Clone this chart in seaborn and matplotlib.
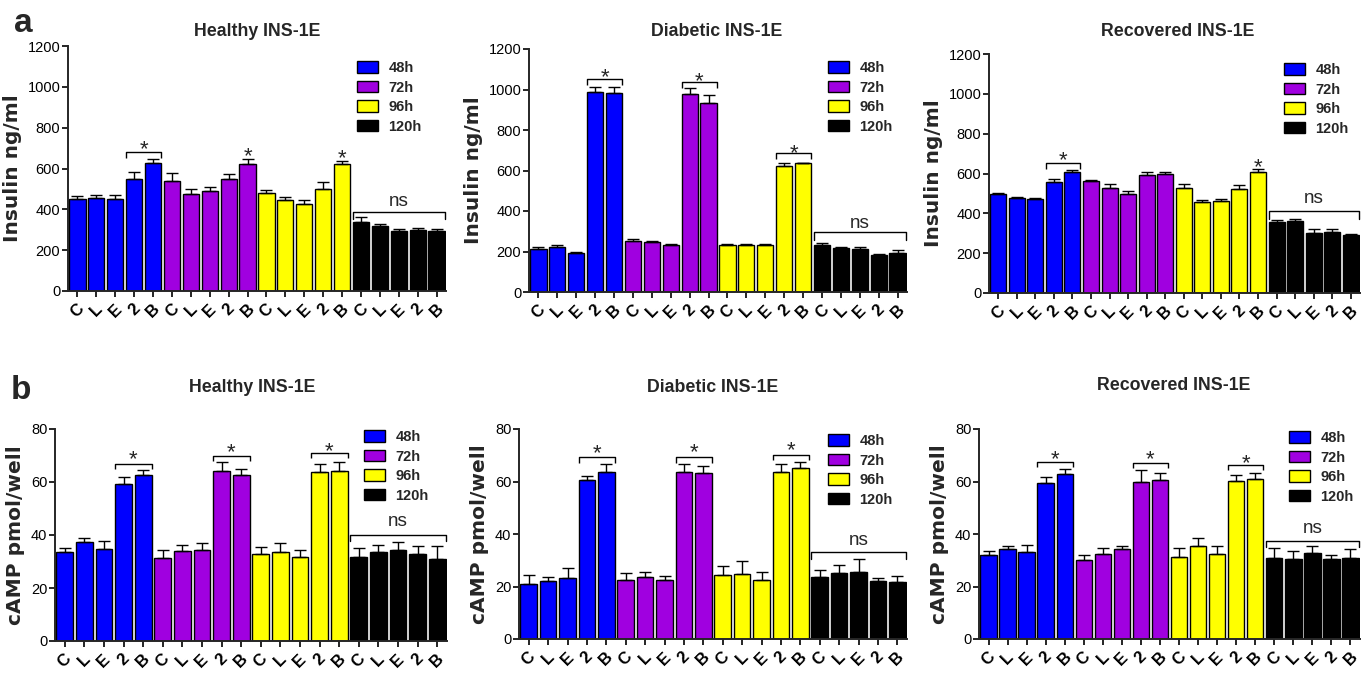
import numpy as np
import pandas as pd
import matplotlib
matplotlib.use("Agg")
import matplotlib.pyplot as plt
import seaborn as sns
from matplotlib.patches import Patch
from matplotlib import font_manager

# ---------------- data ----------------
groups = ["48h", "72h", "96h", "120h"]
treatments = ["C", "L", "E", "2", "B"]
group_colors = ["#0000FF", "#A000E0", "#FFFF00", "#000000"]

ins_healthy = [450, 457, 450, 550, 627, 539, 473, 491, 550, 622,
               482, 446, 428, 501, 622, 340, 318, 296, 300, 294]
ins_healthy_err = [15, 15, 19, 34, 20, 37, 27, 20, 23, 23,
                   13, 16, 16, 33, 16, 22, 9, 6, 9, 8]

ins_diabetic = [211, 223, 193, 990, 982, 253, 246, 234, 977, 931,
                234, 234, 234, 624, 636, 234, 218, 213, 183, 195]
ins_diabetic_err = [10, 11, 5, 22, 30, 11, 5, 4, 28, 41,
                    4, 4, 4, 15, 3, 7, 6, 8, 3, 13]

ins_recovered = [497, 475, 474, 557, 606, 564, 526, 497, 594, 599,
                 527, 457, 462, 520, 606, 355, 362, 301, 306, 293]
ins_recovered_err = [5, 7, 5, 14, 12, 3, 21, 15, 12, 9,
                     20, 10, 12, 21, 17, 12, 8, 22, 14, 5]

camp_healthy = [33.7, 37.2, 34.6, 59.3, 62.5, 31.3, 34.1, 34.4, 64.1, 62.5,
                32.7, 33.6, 31.8, 63.6, 64.1, 31.8, 33.7, 34.2, 32.8, 31.0]
camp_healthy_err = [1.3, 1.8, 3.3, 2.5, 2.1, 3.1, 2.1, 2.6, 3.3, 2.4,
                    2.8, 3.5, 2.6, 3.3, 3.3, 3.2, 2.5, 3.0, 3.0, 4.7]

camp_diabetic = [21.1, 22.0, 23.2, 60.6, 63.7, 22.6, 23.7, 22.5, 63.6, 63.2,
                 24.3, 24.6, 22.5, 63.6, 65.1, 23.5, 25.3, 25.7, 22.2, 21.6]
camp_diabetic_err = [3.4, 1.6, 4.0, 1.6, 3.0, 2.5, 1.7, 1.6, 3.2, 2.6,
                     3.6, 5.0, 2.9, 3.1, 2.5, 2.7, 2.9, 4.8, 1.0, 2.5]

camp_recovered = [31.9, 34.2, 33.3, 59.4, 62.7, 30.1, 32.3, 34.2, 59.9, 60.6,
                  31.4, 35.4, 32.3, 60.3, 61.1, 31.0, 30.6, 32.8, 30.3, 31.0]
camp_recovered_err = [1.5, 1.2, 2.5, 2.4, 2.1, 1.9, 2.4, 1.4, 4.4, 2.7,
                      3.2, 3.0, 3.0, 2.0, 2.3, 3.6, 3.1, 2.6, 1.7, 3.2]

titles = ["Healthy INS-1E", "Diabetic INS-1E", "Recovered INS-1E"]
ylabel_a = "Insulin ng/ml"
ylabel_b = "cAMP pmol/well"
yticks_a = [0, 200, 400, 600, 800, 1000, 1200]
yticks_b = [0, 20, 40, 60, 80]

# significance annotations (bar index pairs, bracket level, star level)
sig_a_healthy = {"brackets": [(3, 4, 679, 723)], "singles": [(9, 690), (14, 682)], "ns": (387, 437)}
sig_a_diabetic = {"brackets": [(3, 4, 1050, 1089), (8, 9, 1035, 1070), (13, 14, 688, 718)], "singles": [], "ns": (294, 338)}
sig_a_recovered = {"brackets": [(3, 4, 654, 700)], "singles": [(14, 661)], "ns": (410, 472)}
sig_b_healthy = {"brackets": [(3, 4, 66.9, 70.9), (8, 9, 70.0, 73.7), (13, 14, 70.9, 74.1)], "singles": [], "ns": (40.0, 45.0)}
sig_b_diabetic = {"brackets": [(3, 4, 69.2, 73.1), (8, 9, 69.2, 73.4), (13, 14, 70.2, 74.3)], "singles": [], "ns": (33.0, 37.6)}
sig_b_recovered = {"brackets": [(3, 4, 67.5, 71.0), (8, 9, 67.1, 71.0), (13, 14, 66.2, 69.4)], "singles": [], "ns": (37.5, 42.2)}

# ---------------- style ----------------
sns.set_style("ticks")
try:
    font_manager.findfont("Liberation Sans Narrow", fallback_to_default=False)
    NARROW, NSCALE = "Liberation Sans Narrow", 1.0
except Exception:
    NARROW, NSCALE = "Liberation Sans", 0.88
plt.rcParams["font.family"] = ["Liberation Sans", "DejaVu Sans"]

W, H = 1362, 673
fig = plt.figure(figsize=(W / 100, H / 100), dpi=100)


def px_rect(left, right, top, bottom):
    return [left / W, 1 - bottom / H, (right - left) / W, (bottom - top) / H]


palette = dict(zip(groups, group_colors))


def panel(rect, values, errs, ytop, yticks, ylabel, title, title_xy, sig, legend_xy):
    ax = fig.add_axes(px_rect(*rect))
    df = pd.DataFrame({
        "bar": [f"{g}-{t}" for g in groups for t in treatments],
        "time": [g for g in groups for _ in treatments],
        "value": values,
    })
    sns.barplot(data=df, x="bar", y="value", hue="time", palette=palette,
                order=list(df["bar"]), hue_order=groups, dodge=False,
                saturation=1, width=0.86, edgecolor="black", linewidth=1.0,
                errorbar=None, legend=False, ax=ax)
    xs = np.arange(len(df))
    ax.errorbar(xs, values, yerr=[np.zeros(len(xs)), errs], fmt="none",
                ecolor="black", elinewidth=1.0, capsize=4, capthick=1.0, zorder=4)
    ax.set_xlim(-0.5, len(xs) - 0.5)
    ax.set_ylim(0, ytop)
    ax.set_yticks(yticks)
    ax.set_xticks(xs)
    ax.set_xticklabels(treatments * len(groups), rotation=45, fontsize=12,
                       fontweight="bold", ha="center", va="top")
    for lab in ax.get_yticklabels():
        lab.set_fontfamily(NARROW)
        lab.set_fontsize(12 * NSCALE)
    ax.tick_params(axis="both", direction="out", length=4.5, width=1.2, colors="black")
    ax.tick_params(axis="x", pad=3)
    ax.tick_params(axis="y", pad=1)
    ax.set_xlabel("")
    ax.set_ylabel(ylabel, fontfamily="DejaVu Sans", fontweight="bold",
                  fontsize=14.5, labelpad=4)
    sns.despine(ax=ax)
    for s in ["left", "bottom"]:
        ax.spines[s].set_linewidth(1.4)
    ax.set_facecolor("none")

    fig.text(title_xy[0] / W, 1 - title_xy[1] / H, title, ha="center", va="center",
             fontfamily=NARROW, fontweight="bold", fontsize=14.5 * NSCALE)

    half = 0.43
    d = 0.025 * ytop
    star_fs = 16
    for i, j, yb, ys in sig["brackets"]:
        ax.plot([i - half, i - half, j + half, j + half], [yb - d, yb, yb, yb - d],
                color="black", lw=1.0, solid_capstyle="butt", clip_on=False)
        ax.annotate("*", ((i + j) / 2, ys), xytext=(0, -0.3 * star_fs),
                    textcoords="offset points", ha="center", va="center",
                    fontsize=star_fs)
    for i, ys in sig["singles"]:
        ax.annotate("*", (i, ys), xytext=(0, -0.3 * star_fs),
                    textcoords="offset points", ha="center", va="center",
                    fontsize=star_fs)
    yb, yt = sig["ns"]
    dn = 0.03 * ytop
    ax.plot([15 - half, 15 - half, 19 + half, 19 + half], [yb - dn, yb, yb, yb - dn],
            color="black", lw=1.0, clip_on=False)
    ax.text(17, yt, "ns", ha="center", va="center", fontfamily=NARROW,
            fontsize=15.5 * NSCALE)

    handles = [Patch(facecolor=c, edgecolor="black", linewidth=1.0) for c in group_colors]
    ax.legend(handles, groups, loc="upper left",
              bbox_to_anchor=(legend_xy[0] / W, 1 - legend_xy[1] / H),
              bbox_transform=fig.transFigure, frameon=False, borderpad=0,
              borderaxespad=0, handlelength=1.45, handleheight=0.8,
              handletextpad=0.7, labelspacing=0.38,
              prop={"family": "Liberation Sans", "weight": "bold", "size": 10.5})
    return ax


panel((68, 446, 46, 291), ins_healthy, ins_healthy_err, 1200, yticks_a, ylabel_a,
      titles[0], (257, 32), sig_a_healthy, (357, 61))
panel((529, 907, 49, 292), ins_diabetic, ins_diabetic_err, 1200, yticks_a, ylabel_a,
      titles[1], (717, 32), sig_a_diabetic, (828, 61))
panel((989, 1360, 54, 293), ins_recovered, ins_recovered_err, 1200, yticks_a, ylabel_a,
      titles[2], (1178, 31), sig_a_recovered, (1284, 63))
panel((55, 447, 429, 641), camp_healthy, camp_healthy_err, 80, yticks_b, ylabel_b,
      titles[0], (252, 388), sig_b_healthy, (364, 430))
panel((519, 907, 429, 639), camp_diabetic, camp_diabetic_err, 80, yticks_b, ylabel_b,
      titles[1], (713, 388), sig_b_diabetic, (828, 434))
panel((979, 1360, 429, 639), camp_recovered, camp_recovered_err, 80, yticks_b, ylabel_b,
      titles[2], (1174, 386), sig_b_recovered, (1289, 431))

fig.text(23 / W, 1 - 24 / H, "a", ha="center", va="center", fontsize=24, fontweight="bold")
fig.text(21 / W, 1 - 390 / H, "b", ha="center", va="center", fontsize=24, fontweight="bold")

fig.savefig("out.png", dpi=100)
